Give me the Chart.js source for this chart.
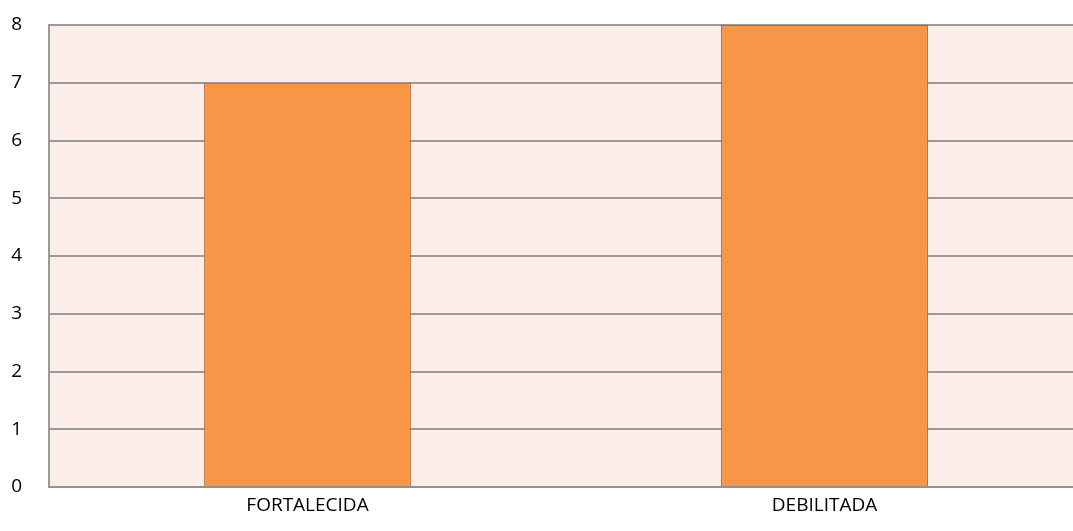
<!DOCTYPE html>
<html>
<head>
<meta charset="utf-8">
<script src="https://cdn.jsdelivr.net/npm/chart.js@4"></script>
<style>
  html, body { margin: 0; padding: 0; background: #fff; overflow: hidden; }
  #wrap { width: 1083px; height: 531px; }
</style>
</head>
<body>
<div id="wrap"><canvas id="chart"></canvas></div>
<script>
// Chart data
const categories = ['FORTALECIDA', 'DEBILITADA'];
const values = [7, 8];
const yTicks = [0, 1, 2, 3, 4, 5, 6, 7, 8];

// Fill the plot area with the pale pink background
const plotBackground = {
    id: 'plotBackground',
    beforeDraw(chart) {
        const { ctx, chartArea } = chart;
        ctx.save();
        ctx.fillStyle = '#FCEDE8';
        ctx.fillRect(chartArea.left, chartArea.top, chartArea.right - chartArea.left, chartArea.bottom - chartArea.top);
        ctx.restore();
    }
};

const ctx = document.getElementById('chart').getContext('2d');
new Chart(ctx, {
    type: 'bar',
    data: {
        labels: categories,
        datasets: [{
            data: values,
            backgroundColor: '#F79646',
            borderColor: '#B06A30',
            borderWidth: 1,
            categoryPercentage: 1,
            barPercentage: 0.4
        }]
    },
    options: {
        responsive: true,
        maintainAspectRatio: false,
        animation: false,
        layout: { padding: { left: 0, top: 25, right: 0, bottom: 0 } },
        plugins: {
            legend: { display: false },
            tooltip: { enabled: false }
        },
        scales: {
            x: {
                afterFit(axis) { axis.height = 44; },
                grid: { display: false, drawTicks: false },
                border: { display: true, color: '#929292', width: 2 },
                ticks: {
                    color: '#000',
                    padding: 7,
                    font: { family: 'Open Sans', size: 19 }
                }
            },
            y: {
                min: 0,
                max: 8,
                afterBuildTicks(axis) {
                    axis.ticks = yTicks.map(v => ({ value: v }));
                },
                afterFit(axis) {
                    axis.width = 49;
                    axis.paddingTop = 0;
                    axis.paddingBottom = 0;
                },
                grid: { color: '#9A9A9A', lineWidth: 2, drawTicks: false },
                border: { display: true, color: '#9A9A9A', width: 2 },
                ticks: {
                    color: '#000',
                    padding: 27,
                    font: { family: 'Open Sans', size: 19 }
                }
            }
        }
    },
    plugins: [plotBackground]
});
</script>
</body>
</html>
